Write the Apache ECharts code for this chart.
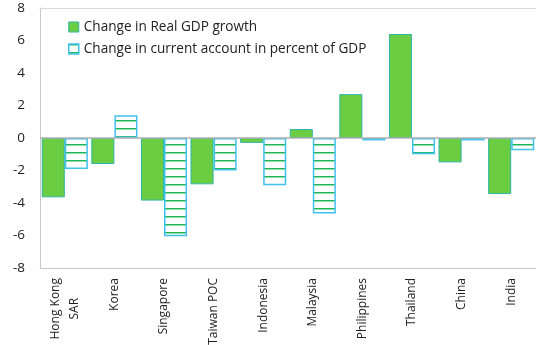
<!DOCTYPE html>
<html><head><meta charset="utf-8">
<script src="https://cdn.jsdelivr.net/npm/echarts@6/dist/echarts.min.js"></script>
<style>html,body{margin:0;padding:0;background:#fff}#c{width:536px;height:345px}</style>
</head><body><div id="c"></div>
<script>
const categories = ['Hong Kong\nSAR','Korea','Singapore','Taiwan POC','Indonesia','Malaysia','Philippines','Thailand','China','India'];
const gdpGrowth = [-3.65, -1.6, -3.85, -2.85, -0.3, 0.55, 2.7, 6.4, -1.5, -3.45];
const currentAccount = [-1.9, 1.4, -6.05, -2.0, -2.9, -4.65, -0.15, -1.0, -0.15, -0.75];
const yTicks = [-8, -6, -4, -2, 0, 2, 4, 6, 8];
const seriesNames = ['Change in Real GDP growth', 'Change in current account in percent of GDP'];

const pc = document.createElement('canvas');
pc.width = 8; pc.height = 8;
const px = pc.getContext('2d');
px.fillStyle = '#ffffff'; px.fillRect(0,0,8,8);
px.fillStyle = '#1fb65a'; px.fillRect(0,0,8,1);
px.fillStyle = '#8fdcaa'; px.fillRect(0,1,8,1);

const font = "'Open Sans', 'Noto Sans', sans-serif";
const lbl = {fontSize: 12, color: '#222', lineHeight: 19, fontFamily: font, align: 'center'};
const chart = echarts.init(document.getElementById('c'), null, {renderer:'canvas'});
chart.setOption({
  animation: false,
  textStyle: {fontFamily: font},
  grid: {left: 40, right: 0, top: 8, bottom: 77, outerBoundsMode: 'none', containLabel: false},
  legend: {
    orient: 'vertical', left: 63, top: 15, itemWidth: 10, itemHeight: 10, itemGap: 8,
    textStyle: {fontSize: 13.6, color: '#222', fontFamily: font},
    data: [
      {name: seriesNames[0], icon: 'rect', itemStyle: {color: '#6acd42', borderColor: '#2fb5a8', borderWidth: 1}},
      {name: seriesNames[1], icon: 'rect', itemStyle: {color: {image: pc, repeat: 'repeat'}, borderColor: '#3fc2f0', borderWidth: 1.5}}
    ]
  },
  xAxis: [{
    type: 'category', data: categories, position: 'bottom',
    axisLine: {onZero: false, lineStyle: {color: '#c8c8c8'}},
    axisTick: {show: false},
    axisLabel: {rotate: 90, interval: 0, margin: 10, fontSize: 12, color: '#222', lineHeight: 19, fontFamily: font,
      formatter: v => v.indexOf('\n') >= 0 ? v.split('\n').map(s => '{c|' + s + '}').join('\n') : v,
      rich: {c: lbl}}
  }, {
    type: 'category', data: categories, position: 'top',
    axisLine: {onZero: false, lineStyle: {color: '#d8d8d8'}},
    axisTick: {show: false}, axisLabel: {show: false}
  }],
  yAxis: {
    type: 'value', min: -8, max: 8, interval: 2,
    axisLine: {show: true, lineStyle: {color: '#c8c8c8'}},
    axisTick: {show: false},
    splitLine: {show: false},
    axisLabel: {margin: 15, fontSize: 13.5, color: '#222', fontFamily: font,
      formatter: v => yTicks.includes(v) ? String(v) : ''}
  },
  series: [{
    name: seriesNames[0], type: 'bar', data: gdpGrowth, barGap: '0%', barCategoryGap: '7%',
    itemStyle: {color: '#6acd42', borderColor: '#2fb5a8', borderWidth: 1},
    markLine: {silent: true, symbol: 'none', label: {show: false},
      lineStyle: {color: '#b0b0b0', type: 'solid', width: 1.5}, data: [{yAxis: 0}]}
  }, {
    name: seriesNames[1], type: 'bar', data: currentAccount,
    itemStyle: {color: {image: pc, repeat: 'repeat'}, borderColor: '#3fc2f0', borderWidth: 1.5}
  }]
});
</script></body></html>
